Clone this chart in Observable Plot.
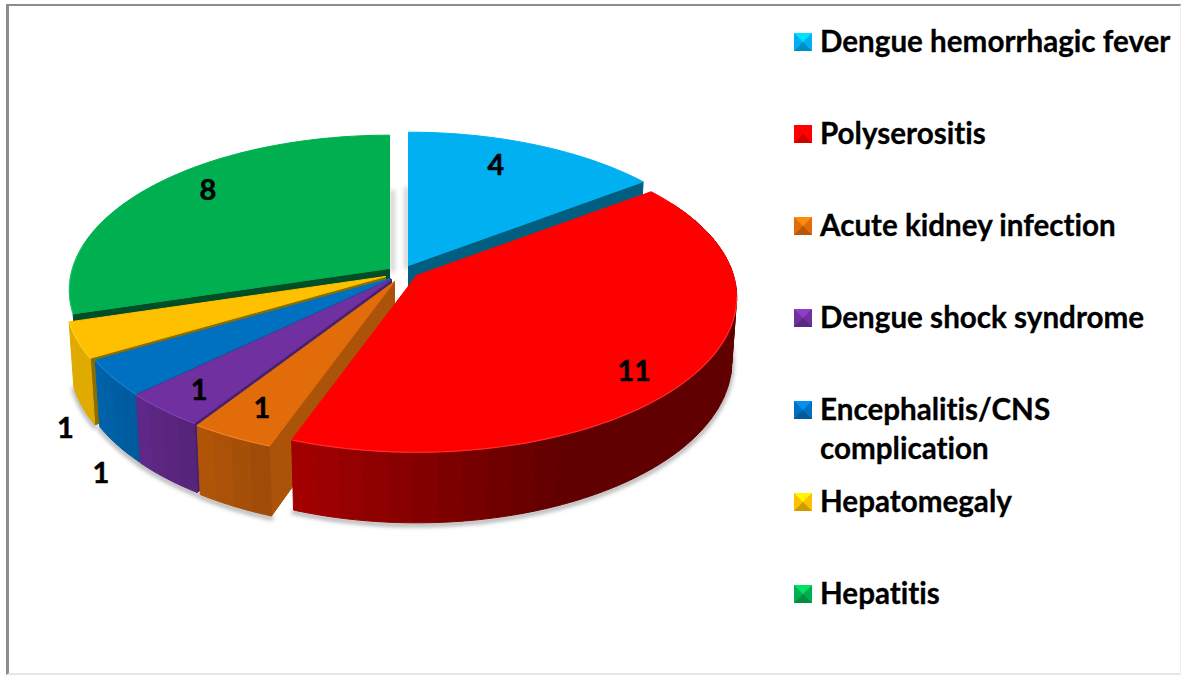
<!DOCTYPE html>
<html>
<head>
<meta charset="utf-8">
<script src="https://cdn.jsdelivr.net/npm/d3@7"></script>
<script src="https://cdn.jsdelivr.net/npm/@observablehq/plot@0.6"></script>
<style>
  html,body{margin:0;padding:0;background:#fff;}
  #wrap{position:relative;width:1181px;height:675px;overflow:hidden;}
  #frame{position:absolute;left:6px;top:4px;right:0;bottom:0;box-sizing:border-box;
    border-left:3px solid #8c8c8c;border-top:2px solid #8c8c8c;border-bottom:2px solid #e6e6e6;border-right:1px solid #f0f0f0;}
  #chart{position:absolute;left:0;top:0;}
  #legend{position:absolute;left:794px;top:21px;font-family:Lato,sans-serif;font-weight:700;
    font-size:29.6px;line-height:39px;color:#000;-webkit-text-stroke:.3px #000;white-space:nowrap;font-variant-ligatures:none;}
  .row{height:92px;display:flex;align-items:flex-start;}
  .sw{width:0;height:0;flex:none;border-style:solid;border-width:9.5px;margin-top:11.5px;margin-right:8px;}
</style>
</head>
<body>
<div id="wrap"><div id="frame"></div><div id="chart"></div><div id="legend"></div></div>
<script>
// ---- data ----
const categories = ["Dengue hemorrhagic fever","Polyserositis","Acute kidney infection","Dengue shock syndrome","Encephalitis/CNS complication","Hepatomegaly","Hepatitis"];
const values = [4,11,1,1,1,1,8];
const topColors = ["#00b0f0","#ff0000","#e36c0a","#7030a0","#0070c0","#ffc000","#00b050"];
// ---- styling of the 3-D look ----
const wallStart = ["#005f80","#600000","#a04c08","#56247a","#005a9e","#dfab00","#008a40"];
const wallEnd   = ["#005f80","#a80000","#b05508","#5e2888","#0063aa","#dfab00","#008a40"];
const cutColors = ["#005f80","#600000","#ab5308","#48206c","#004d85","#8c6e00","#004d26"];
const rimColors = [null,"#ff4040","#f58a30","#8d45c4","#1a8ade","#ffd633","#20c870"];
// exploded apex of every slice, in pie-plane pixels
const apexX = [408,416,394,391,390,385,389];
const apexY = [265,275,281,279,278,276,268];
const labelDX = [-39,-60,30,36,-12,-12,53];
const labelDY = [21,-3,-28,-19,96,88,6];
const Rx = 317, Ry = 152, K = 0.14, Depth = 63, BottomShrink = 0.985;

const total = d3.sum(values);
let cum = 0;
const slices = values.map((v,i)=>{const s={i,a0:cum/total*360,a1:(cum+v)/total*360,v};cum+=v;return s;});

function proj(i,deg,r=1,bottom=false){
  const t=deg*Math.PI/180, X=Math.sin(t), Y=Math.cos(t), s=1/(1+K*Y*r), b=bottom?BottomShrink:1;
  return {x:apexX[i]+Rx*r*X*s*b, y:apexY[i]-Ry*r*Y*s*b+(bottom?Depth*s:0)};
}
function arc(i,a0,a1,bottom=false){
  const n=Math.max(2,Math.ceil(Math.abs(a1-a0)/1.5)), out=[];
  for(let k=0;k<=n;k++) out.push(proj(i,a0+(a1-a0)*k/n,1,bottom));
  return out;
}
const faces=[], rims=[], shadows=[];
let uid=0;
function poly(pts,color){const id=uid++;[...pts,pts[0]].forEach(p=>faces.push({id,x:p.x,y:p.y,color}));}
function drawSlice(i){
  const {a0,a1}=slices[i], c=proj(i,0,0), cb=proj(i,0,0,true);
  const cutAngle = (i===0)?a1:a0;
  if(i!==1){
    const p=proj(i,cutAngle), pb=proj(i,cutAngle,1,true);
    poly([c,p,pb,cb],cutColors[i]);
  }
  if(i>=1 && i<=5){
    // wall bands painted high angle to low so that each overlaps the previous seam
    const lo=Math.max(a0,60), hi=a1, n=i===1?36:4;
    const color=d3.interpolateRgb(wallStart[i],wallEnd[i]);
    for(let k=n-1;k>=0;k--){
      const d0=lo+(hi-lo)*k/n, d1=lo+(hi-lo)*(k+1)/n;
      const t=i===1?Math.min(1,Math.max(0,(d0-155)/45)):k/(n-1);
      const pts=[...arc(i,d0,d1),...arc(i,d1,d0,true)];
      poly(pts,d3.color(color(t)).formatHex());
    }
  }
  poly([c,...arc(i,a0,a1)],topColors[i]);
}
[0,6,5,4,3,2,1].forEach(d=>drawSlice(d));

slices.forEach(({i,a0,a1})=>{
  if(rimColors[i]){
    const lo=i===1?98:a0, hi=i===6?Math.min(a1,280):a1;
    arc(i,lo,hi).forEach(p=>rims.push({id:i,x:p.x,y:p.y,color:rimColors[i]}));
  }
  if(i>=1&&i<=5){
    arc(i,Math.max(a0,60),a1,true).forEach(p=>shadows.push({id:"b"+i,x:p.x,y:p.y,color:"#808080"}));
  }
});
[[6,3,"g"],[0,-2,"h"]].forEach(([i,dx,id])=>{
  [0,.56].forEach(r=>{const a=proj(i,0,r);shadows.push({id,x:a.x+dx,y:a.y,color:"#b4b4b4"});});
});

const labels=slices.map(({i,a0,a1,v})=>{
  const p=proj(i,(a0+a1)/2);
  return {x:p.x+labelDX[i],y:p.y+labelDY[i],text:String(v)};
});

const plot=Plot.plot({
  width:1181,height:675,margin:0,
  x:{domain:[0,1181],range:[0,1181],axis:null},
  y:{domain:[0,675],range:[0,675],axis:null},
  color:{type:"identity"},
  style:{background:"transparent"},
  marks:[
    Plot.line(shadows,{x:"x",y:"y",z:"id",stroke:"color",strokeWidth:4,strokeOpacity:.7,dy:2}),
    Plot.line(faces,{x:"x",y:"y",z:"id",fill:"color",stroke:"color",strokeWidth:1}),
    Plot.line(rims,{x:"x",y:"y",z:"id",stroke:"color",strokeWidth:1.2,strokeOpacity:.7}),
    Plot.text(labels,{x:"x",y:"y",text:"text",fontFamily:"Lato, sans-serif",fontWeight:700,fontSize:29,fill:"#000",stroke:"#000",strokeWidth:.5,textAnchor:"middle",lineAnchor:"middle"})
  ]
});
const lineGroups=plot.querySelectorAll('g[aria-label="line"]');
if(lineGroups[0]) lineGroups[0].style.filter="blur(2px)";
document.getElementById("chart").append(plot);

const legend=d3.select("#legend");
categories.forEach((name,i)=>{
  const base=d3.color(topColors[i]);
  const row=legend.append("div").attr("class","row");
  row.append("div").attr("class","sw").style("border-color",
    `${base.brighter(.7).formatHex()} ${base.formatHex()} ${base.darker(.6).formatHex()} ${base.formatHex()}`);
  const parts=name==="Encephalitis/CNS complication"?["Encephalitis/CNS","complication"]:[name];
  const t=row.append("div");
  parts.forEach(s=>t.append("div").text(s));
});
</script>
</body>
</html>
